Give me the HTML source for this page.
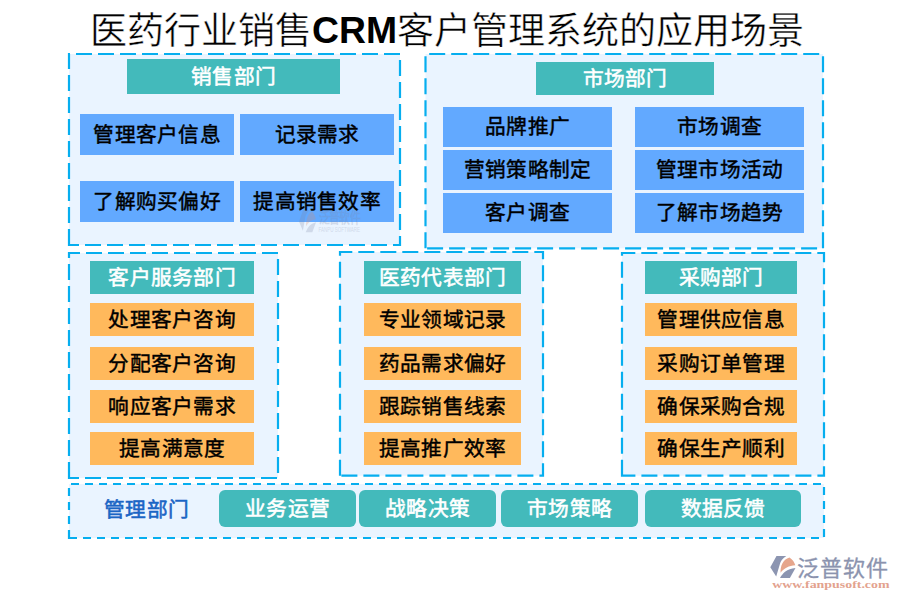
<!DOCTYPE html>
<html lang="zh-CN">
<head>
<meta charset="utf-8">
<title>医药行业销售CRM客户管理系统的应用场景</title>
<style>
html,body{margin:0;padding:0;background:#fff;}
body{width:900px;height:600px;overflow:hidden;position:relative;font-family:"Liberation Serif",serif;}
svg{position:absolute;left:0;top:0;display:block;}
svg text{font-family:"Liberation Serif",serif;}
.crm{font-family:"Liberation Sans",sans-serif;font-weight:bold;}
svg text.sans{font-family:"Liberation Sans",sans-serif;}
svg text.crm{font-family:"Liberation Sans",sans-serif;}
</style>
</head>
<body>
<svg width="900" height="600" viewBox="0 0 900 600">
<g font-size="37" fill="#000" stroke="#fff" stroke-width="0.45">
<text x="90.4" y="44" textLength="222" lengthAdjust="spacing">医药行业销售</text>
<text x="396.8" y="44" textLength="407" lengthAdjust="spacing">客户管理系统的应用场景</text>
</g>
<text class="crm" x="312" y="43.2" font-size="37.33" fill="#000">CRM</text>
<rect x="69" y="54" width="331" height="191" fill="#EAF4FF"/>
<path d="M69 245V54H400V245Z" fill="none" stroke="#06AEEF" stroke-width="2.2" stroke-dasharray="16 6"/>
<rect x="425.5" y="54" width="397.5" height="194.3" fill="#EAF4FF"/>
<path d="M425.5 248.3V54H823V248.3Z" fill="none" stroke="#06AEEF" stroke-width="2.2" stroke-dasharray="16 6"/>
<rect x="69" y="253" width="209" height="225" fill="#EAF4FF"/>
<path d="M69 478V253H278V478Z" fill="none" stroke="#06AEEF" stroke-width="2.2" stroke-dasharray="16 6"/>
<rect x="340" y="252" width="203" height="223.7" fill="#EAF4FF"/>
<path d="M340 475.7V252H543V475.7Z" fill="none" stroke="#06AEEF" stroke-width="2.2" stroke-dasharray="16 6"/>
<rect x="622" y="253" width="202" height="222.7" fill="#EAF4FF"/>
<path d="M622 475.7V253H824V475.7Z" fill="none" stroke="#06AEEF" stroke-width="2.2" stroke-dasharray="16 6"/>
<rect x="69" y="484" width="755" height="54" fill="#EAF4FF"/>
<path d="M69 538V484H824V538Z" fill="none" stroke="#06AEEF" stroke-width="2.2" stroke-dasharray="8 6"/>
<rect x="127" y="59" width="213" height="35" fill="#43BABB"/>
<text x="233.5" y="83.7" text-anchor="middle" font-size="20.7" font-weight="normal" fill="#fff" stroke="#fff" stroke-width="0.55" textLength="84.7" lengthAdjust="spacing">销售部门</text>
<rect x="80" y="114" width="154" height="41" fill="#62A9FF"/>
<text x="157.0" y="141.7" text-anchor="middle" font-size="20.7" font-weight="normal" fill="#000" stroke="#000" stroke-width="0.45" textLength="127.3" lengthAdjust="spacing">管理客户信息</text>
<rect x="240" y="114" width="154" height="41" fill="#62A9FF"/>
<text x="317.0" y="141.7" text-anchor="middle" font-size="20.7" font-weight="normal" fill="#000" stroke="#000" stroke-width="0.45" textLength="84.7" lengthAdjust="spacing">记录需求</text>
<rect x="80" y="181" width="154" height="41" fill="#62A9FF"/>
<text x="157.0" y="208.7" text-anchor="middle" font-size="20.7" font-weight="normal" fill="#000" stroke="#000" stroke-width="0.45" textLength="127.3" lengthAdjust="spacing">了解购买偏好</text>
<rect x="240" y="181" width="154" height="41" fill="#62A9FF"/>
<text x="317.0" y="208.7" text-anchor="middle" font-size="20.7" font-weight="normal" fill="#000" stroke="#000" stroke-width="0.45" textLength="127.3" lengthAdjust="spacing">提高销售效率</text>
<rect x="536" y="62" width="178" height="33" fill="#43BABB"/>
<text x="625.0" y="85.7" text-anchor="middle" font-size="20.7" font-weight="normal" fill="#fff" stroke="#fff" stroke-width="0.55" textLength="84.7" lengthAdjust="spacing">市场部门</text>
<rect x="443" y="107" width="169" height="40" fill="#62A9FF"/>
<text x="527.5" y="134.2" text-anchor="middle" font-size="20.7" font-weight="normal" fill="#000" stroke="#000" stroke-width="0.45" textLength="84.7" lengthAdjust="spacing">品牌推广</text>
<rect x="635" y="107" width="169" height="40" fill="#62A9FF"/>
<text x="719.5" y="134.2" text-anchor="middle" font-size="20.7" font-weight="normal" fill="#000" stroke="#000" stroke-width="0.45" textLength="84.7" lengthAdjust="spacing">市场调查</text>
<rect x="443" y="150" width="169" height="40" fill="#62A9FF"/>
<text x="527.5" y="177.2" text-anchor="middle" font-size="20.7" font-weight="normal" fill="#000" stroke="#000" stroke-width="0.45" textLength="127.3" lengthAdjust="spacing">营销策略制定</text>
<rect x="635" y="150" width="169" height="40" fill="#62A9FF"/>
<text x="719.5" y="177.2" text-anchor="middle" font-size="20.7" font-weight="normal" fill="#000" stroke="#000" stroke-width="0.45" textLength="127.3" lengthAdjust="spacing">管理市场活动</text>
<rect x="443" y="193" width="169" height="40" fill="#62A9FF"/>
<text x="527.5" y="220.2" text-anchor="middle" font-size="20.7" font-weight="normal" fill="#000" stroke="#000" stroke-width="0.45" textLength="84.7" lengthAdjust="spacing">客户调查</text>
<rect x="635" y="193" width="169" height="40" fill="#62A9FF"/>
<text x="719.5" y="220.2" text-anchor="middle" font-size="20.7" font-weight="normal" fill="#000" stroke="#000" stroke-width="0.45" textLength="127.3" lengthAdjust="spacing">了解市场趋势</text>
<rect x="90" y="261" width="164" height="33" fill="#43BABB"/>
<text x="172.0" y="284.7" text-anchor="middle" font-size="20.7" font-weight="normal" fill="#fff" stroke="#fff" stroke-width="0.55" textLength="127.3" lengthAdjust="spacing">客户服务部门</text>
<rect x="90" y="303" width="164" height="33" fill="#FFB95C"/>
<text x="172.0" y="326.7" text-anchor="middle" font-size="20.7" font-weight="normal" fill="#000" stroke="#000" stroke-width="0.45" textLength="127.3" lengthAdjust="spacing">处理客户咨询</text>
<rect x="90" y="347" width="164" height="33" fill="#FFB95C"/>
<text x="172.0" y="370.7" text-anchor="middle" font-size="20.7" font-weight="normal" fill="#000" stroke="#000" stroke-width="0.45" textLength="127.3" lengthAdjust="spacing">分配客户咨询</text>
<rect x="90" y="390" width="164" height="33" fill="#FFB95C"/>
<text x="172.0" y="413.7" text-anchor="middle" font-size="20.7" font-weight="normal" fill="#000" stroke="#000" stroke-width="0.45" textLength="127.3" lengthAdjust="spacing">响应客户需求</text>
<rect x="90" y="432" width="164" height="33" fill="#FFB95C"/>
<text x="172.0" y="455.7" text-anchor="middle" font-size="20.7" font-weight="normal" fill="#000" stroke="#000" stroke-width="0.45" textLength="106.0" lengthAdjust="spacing">提高满意度</text>
<rect x="364" y="261" width="157" height="33" fill="#43BABB"/>
<text x="442.5" y="284.7" text-anchor="middle" font-size="20.7" font-weight="normal" fill="#fff" stroke="#fff" stroke-width="0.55" textLength="127.3" lengthAdjust="spacing">医药代表部门</text>
<rect x="364" y="303" width="157" height="33" fill="#FFB95C"/>
<text x="442.5" y="326.7" text-anchor="middle" font-size="20.7" font-weight="normal" fill="#000" stroke="#000" stroke-width="0.45" textLength="127.3" lengthAdjust="spacing">专业领域记录</text>
<rect x="364" y="347" width="157" height="33" fill="#FFB95C"/>
<text x="442.5" y="370.7" text-anchor="middle" font-size="20.7" font-weight="normal" fill="#000" stroke="#000" stroke-width="0.45" textLength="127.3" lengthAdjust="spacing">药品需求偏好</text>
<rect x="364" y="390" width="157" height="33" fill="#FFB95C"/>
<text x="442.5" y="413.7" text-anchor="middle" font-size="20.7" font-weight="normal" fill="#000" stroke="#000" stroke-width="0.45" textLength="127.3" lengthAdjust="spacing">跟踪销售线索</text>
<rect x="364" y="432" width="157" height="33" fill="#FFB95C"/>
<text x="442.5" y="455.7" text-anchor="middle" font-size="20.7" font-weight="normal" fill="#000" stroke="#000" stroke-width="0.45" textLength="127.3" lengthAdjust="spacing">提高推广效率</text>
<rect x="645" y="261" width="152" height="33" fill="#43BABB"/>
<text x="721.0" y="284.7" text-anchor="middle" font-size="20.7" font-weight="normal" fill="#fff" stroke="#fff" stroke-width="0.55" textLength="84.7" lengthAdjust="spacing">采购部门</text>
<rect x="645" y="303" width="152" height="33" fill="#FFB95C"/>
<text x="721.0" y="326.7" text-anchor="middle" font-size="20.7" font-weight="normal" fill="#000" stroke="#000" stroke-width="0.45" textLength="127.3" lengthAdjust="spacing">管理供应信息</text>
<rect x="645" y="347" width="152" height="33" fill="#FFB95C"/>
<text x="721.0" y="370.7" text-anchor="middle" font-size="20.7" font-weight="normal" fill="#000" stroke="#000" stroke-width="0.45" textLength="127.3" lengthAdjust="spacing">采购订单管理</text>
<rect x="645" y="390" width="152" height="33" fill="#FFB95C"/>
<text x="721.0" y="413.7" text-anchor="middle" font-size="20.7" font-weight="normal" fill="#000" stroke="#000" stroke-width="0.45" textLength="127.3" lengthAdjust="spacing">确保采购合规</text>
<rect x="645" y="432" width="152" height="33" fill="#FFB95C"/>
<text x="721.0" y="455.7" text-anchor="middle" font-size="20.7" font-weight="normal" fill="#000" stroke="#000" stroke-width="0.45" textLength="127.3" lengthAdjust="spacing">确保生产顺利</text>
<text x="146.5" y="516.7" text-anchor="middle" font-size="20.7" font-weight="normal" fill="#1B65C5" stroke="#1B65C5" stroke-width="0.55" textLength="84.7" lengthAdjust="spacing">管理部门</text>
<rect x="219" y="490" width="137" height="37" fill="#43BABB" rx="6"/>
<text x="287.5" y="515.7" text-anchor="middle" font-size="20.7" font-weight="normal" fill="#fff" stroke="#fff" stroke-width="0.55" textLength="84.7" lengthAdjust="spacing">业务运营</text>
<rect x="359" y="490" width="137" height="37" fill="#43BABB" rx="6"/>
<text x="427.5" y="515.7" text-anchor="middle" font-size="20.7" font-weight="normal" fill="#fff" stroke="#fff" stroke-width="0.55" textLength="84.7" lengthAdjust="spacing">战略决策</text>
<rect x="501" y="490" width="137" height="37" fill="#43BABB" rx="6"/>
<text x="569.5" y="515.7" text-anchor="middle" font-size="20.7" font-weight="normal" fill="#fff" stroke="#fff" stroke-width="0.55" textLength="84.7" lengthAdjust="spacing">市场策略</text>
<rect x="645" y="490" width="156" height="37" fill="#43BABB" rx="6"/>
<text x="723.0" y="515.7" text-anchor="middle" font-size="20.7" font-weight="normal" fill="#fff" stroke="#fff" stroke-width="0.55" textLength="84.7" lengthAdjust="spacing">数据反馈</text>
<!-- watermark -->
<g opacity="0.24">
<g transform="translate(299 210) scale(0.68 1.02)">
<path d="M0 11.2L6.2 0H15.5Q9.2 3.9 8.5 9.9L5.7 20.3Z" fill="#7C86A6"/>
<path d="M10.4 16C10.2 9.9 12.7 3.4 19.2 1.4C22.2 3.4 24.2 6.4 24.8 9.1C18.7 9.4 13.7 11.9 10.4 16Z" fill="#E08A66"/>
<path d="M9.9 21.9C12.2 17.4 16.7 13.4 25.1 12L19.5 21.9Z" fill="#7C86A6"/>
</g>
<text class="sans" x="318.5" y="222.6" font-size="14.5" font-weight="bold" fill="#7C86A6" textLength="41.5" lengthAdjust="spacingAndGlyphs">泛普软件</text>
<text class="sans" x="318.5" y="232" font-size="7" fill="#7C86A6" textLength="41.5" lengthAdjust="spacingAndGlyphs">FANPU SOFTWARE</text>
</g>
<!-- logo -->
<g id="logo">
<g transform="translate(770.3 556.1)">
<path d="M0 11.2L6.2 0H16Q10.2 3.6 9.3 9L5.9 20.5Z" fill="#8C95B1"/>
<path d="M10.3 16.6C10 10 12.4 3.4 19.2 1.3C22.3 3.3 24.3 6.3 25 9.2C18.7 9.5 13.7 12.2 10.3 16.6Z" fill="#E6A68C"/>
<path d="M9.7 22C12 17 16.5 12.8 25.2 11.8L19.6 22Z" fill="#8C95B1"/>
</g>
<text class="sans" x="796.6" y="575.9" font-size="22" fill="#8B93AE" stroke="#8B93AE" stroke-width="0.3" textLength="91.6" lengthAdjust="spacing">泛普软件</text>
<text x="772.2" y="587.8" font-size="11" font-weight="bold" fill="#E3A28E" textLength="117.4" lengthAdjust="spacingAndGlyphs">www.fanpusoft.com</text>
</g>
</svg>
</body>
</html>
